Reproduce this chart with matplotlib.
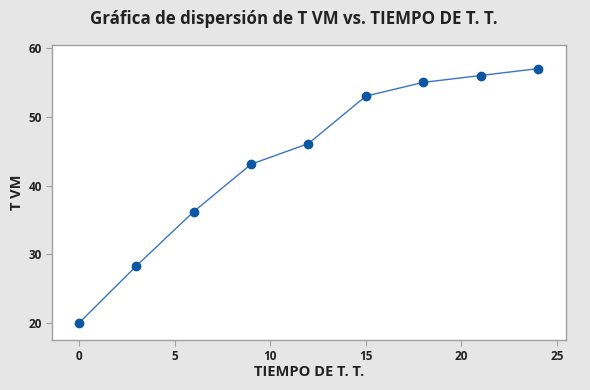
import matplotlib
matplotlib.use("Agg")
import matplotlib.pyplot as plt

# Data
tiempo = [0, 3, 6, 9, 12, 15, 18, 21, 24]
tvm = [20, 28.3, 36.2, 43.1, 46.1, 53.0, 55.0, 56.0, 57.0]

plt.rcParams["font.family"] = ["Open Sans", "DejaVu Sans"]

fig = plt.figure(figsize=(5.9, 3.9), dpi=100, facecolor="#e6e6e6")
ax = fig.add_axes([52 / 590, 1 - 340 / 390, (566 - 52) / 590, (340 - 45) / 390])
ax.set_facecolor("white")

ax.plot(tiempo, tvm, color="#3a75c0", linewidth=1.0, marker="o",
        markersize=6, markerfacecolor="#0b57a4", markeredgecolor="#0b57a4")

ax.set_xlim(-1.41, 25.47)
ax.set_ylim(17.53, 60.44)
ax.set_xticks([0, 5, 10, 15, 20, 25])
ax.set_yticks([20, 30, 40, 50, 60])

for s in ax.spines.values():
    s.set_color("#a0a0a0")
    s.set_linewidth(1.0)
ax.tick_params(colors="#a0a0a0", labelcolor="#222222", labelsize=8.5, length=4, width=0.8, pad=3)
for lbl in ax.get_xticklabels() + ax.get_yticklabels():
    lbl.set_fontweight("bold")

ax.set_xlabel("TIEMPO DE T. T.", fontsize=10.5, fontweight="bold", color="#222222")
ax.xaxis.set_label_coords(0.5, -0.085)
ax.set_ylabel("T VM", fontsize=10.5, fontweight="bold", color="#222222")
ax.yaxis.set_label_coords(-0.055, 0.5)
fig.suptitle("Gráfica de dispersión de T VM vs. TIEMPO DE T. T.", fontsize=12.2,
             fontweight="bold", color="#222222", x=0.498, y=0.975)

fig.savefig("out.png", dpi=100, facecolor=fig.get_facecolor())
